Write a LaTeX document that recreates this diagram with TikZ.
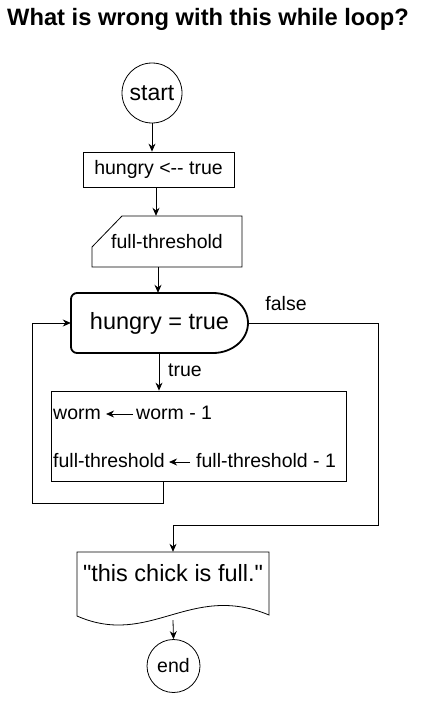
\documentclass[tikz,border=0pt]{standalone}
\usepackage{fontspec}
\setmainfont{Liberation Sans}[Ligatures=TeXOff]
\usetikzlibrary{arrows.meta}
\begin{document}
\begin{tikzpicture}[x=1pt,y=-1pt,
  arr/.style={-{Stealth[length=8pt,width=7pt]}, line width=0.8pt},
  ln/.style={line width=0.8pt},
  box/.style={draw, line width=0.8pt, inner sep=0pt},
  txtS/.style={inner sep=0pt, font=\fontsize{19.5}{22}\selectfont},
  txtL/.style={inner sep=0pt, font=\fontsize{23.5}{26}\selectfont},
  rowtxt/.style={inner sep=0pt, anchor=base west, text height=14pt, text depth=4pt, font=\fontsize{19.5}{22}\selectfont}]
\fill[white] (0,0) rectangle (441,717);
\useasboundingbox (0,0) rectangle (441,717);

% title
\node[anchor=base west, inner sep=0pt, font=\bfseries\fontsize{23.7}{26}\selectfont] (title) at (7,26) {What is wrong with this while loop?};

% start
\node[circle, draw, line width=0.8pt, minimum size=60pt, inner sep=0pt, font=\fontsize{23}{26}\selectfont] (start) at (152,93) {start};

% init
\node[box, minimum width=151pt, minimum height=35pt, font=\fontsize{19.5}{22}\selectfont] (init) at (158.5,169.5) {hungry <-{}- true};

% manual input
\node[txtS, minimum width=150pt, minimum height=51pt] (mi) at (167,241.5) {full-threshold};
\draw[ln] (92,247) -- (122,216) -- (242,216) -- (242,267) -- (92,267) -- cycle;

% condition
\node[txtL, minimum width=177pt, minimum height=60pt] (cond) at (159.5,323) {hungry = true};
\draw[line width=1.8pt, rounded corners=6pt] (213,293) -- (71,293) -- (71,353) -- (213,353);
\draw[line width=1.8pt] (212,353) -- (213,353) .. controls (232.3,353) and (248,339.6) .. (248,323)
  .. controls (248,306.4) and (232.3,293) .. (213,293) -- (212,293);

% body
\node[box, minimum width=295pt, minimum height=90pt] (body) at (198.5,436) {};
\node[rowtxt] (w1) at (53,419) {worm};
\node[rowtxt] (w2) at (136,419) {worm - 1};
\node[rowtxt] (f1) at (53,467) {full-threshold};
\node[rowtxt] (f2) at (196,467) {full-threshold - 1};
\draw[arr] ([xshift=-3pt]w2.west) -- ([xshift=5pt]w1.east);
\draw[arr] ([xshift=-6pt]f2.west) -- ([xshift=4pt]f1.east);

% document
\node[inner sep=0pt, minimum width=192pt, minimum height=74pt] (doc) at (173,589) {};
\node[txtL] (doctext) at (173,573) {"this chick is full."};
\draw[ln] (77,616) -- (77,552) -- (269,552) -- (269,615)
  .. controls (190,582) and (150,648) .. (77,616) -- cycle;

% end
\node[circle, draw, line width=0.8pt, minimum size=53pt, inner sep=0pt, font=\fontsize{19.5}{22}\selectfont] (end) at (173.5,666) {end};

% connectors
\draw[arr] (start.south) -- (start.south |- init.north);
\draw[arr] ([xshift=-2.5pt]init.south) -- ([xshift=-2.5pt]init.south |- mi.north);
\draw[arr] ([xshift=-9pt]mi.south) -- ([xshift=-9pt]mi.south |- cond.north);
\draw[arr] ([xshift=-0.5pt]cond.south) -- ([xshift=-0.5pt]cond.south |- body.north);
\node[txtS] (tl) at (185,370) {true};

\coordinate (lb) at (32,503);
\draw[arr] ([xshift=-35.5pt]body.south) |- (lb) |- (cond.west);

\coordinate (fr) at (378,525);
\draw[arr] (cond.east) -| (fr) -| (doc.north);
\node[txtS] (fl) at (286,304) {false};

\draw[arr] ([yshift=6pt]doc.south) -- (end.north);
\end{tikzpicture}
\end{document}
